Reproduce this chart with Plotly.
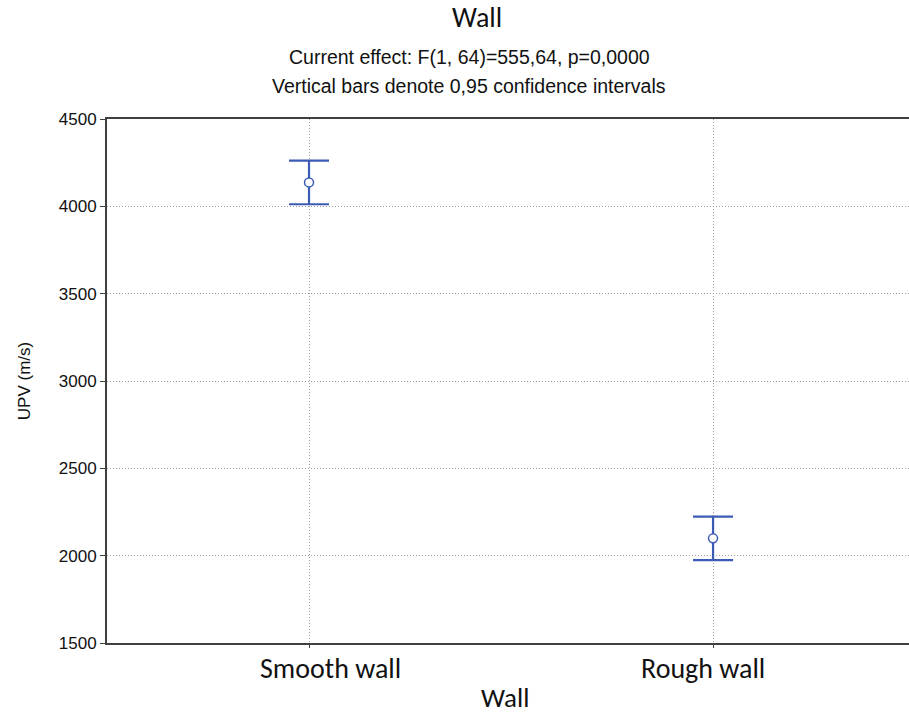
import plotly.graph_objects as go

# Group means of UPV with 95% confidence half-widths
groups = ["Smooth wall", "Rough wall"]
upv_mean = [4137, 2099]
ci_half = [125, 124]

y_ticks = [1500, 2000, 2500, 3000, 3500, 4000, 4500]

blue = "#3b5bb5"
axis_col = "#404040"
grid_col = "#a0a0a0"
sans = "Liberation Sans, Arial, sans-serif"
label_font = "Carlito, Calibri, Lato, sans-serif"

W, H = 909, 716
L, R, T, B = 107, 0, 119, 73

fig = go.Figure()
fig.add_trace(go.Scatter(
    x=[0, 1],
    y=upv_mean,
    mode="markers",
    marker=dict(symbol="circle", size=9, color="white", line=dict(width=1.5, color=blue)),
    error_y=dict(type="data", array=ci_half, visible=True, color=blue, thickness=2.2, width=20),
    showlegend=False,
    hoverinfo="y",
))

fig.update_layout(
    width=W,
    height=H,
    margin=dict(l=L, r=R, t=T, b=B),
    paper_bgcolor="white",
    plot_bgcolor="white",
    xaxis=dict(
        range=[-0.5, 1.485],
        tickmode="array",
        tickvals=[0, 1],
        showticklabels=False,
        showgrid=True,
        gridcolor=grid_col,
        griddash="1px,2px",
        gridwidth=1,
        showline=True,
        linecolor=axis_col,
        linewidth=2,
        mirror=True,
        ticks="outside",
        ticklen=3,
        tickcolor=axis_col,
        zeroline=False,
    ),
    yaxis=dict(
        range=[1500, 4500],
        tickmode="array",
        tickvals=y_ticks,
        ticktext=[str(v) for v in y_ticks],
        showgrid=True,
        gridcolor=grid_col,
        griddash="1px,2px",
        gridwidth=1,
        showline=True,
        linecolor=axis_col,
        linewidth=2,
        mirror=False,
        ticks="outside",
        ticklen=5,
        tickcolor=axis_col,
        tickfont=dict(family=sans, size=17, color="#111"),
        title=dict(text="UPV (m/s)", font=dict(family=sans, size=17, color="#111"), standoff=24),
        zeroline=False,
    ),
)

# Titles and category labels, positioned in pixels and converted to paper coordinates
plot_w = W - L - R
plot_h = H - T - B

def px(x):
    return (x - L) / plot_w

def py(y):
    return (H - B - y) / plot_h

# Category labels under the axis, each nudged slightly off its tick
label_shift = [21, -10]
for i, name in enumerate(groups):
    fig.add_annotation(text=name, x=i, y=py(668), xref="x", yref="paper",
                       xshift=label_shift[i], xanchor="center", yanchor="middle",
                       showarrow=False, font=dict(family=label_font, size=28, color="#111"))

heads = [
    ("Wall", 477, 18, dict(family=label_font, size=28, color="#111")),
    ("Current effect: F(1, 64)=555,64, p=0,0000", 469, 57, dict(family=sans, size=19.5, color="#111")),
    ("Vertical bars denote 0,95 confidence intervals", 469, 86, dict(family=sans, size=19.5, color="#111")),
    ("Wall", 505, 697, dict(family=label_font, size=27, color="#111")),
]
for text, x, y, font in heads:
    fig.add_annotation(text=text, x=px(x), y=py(y), xref="paper", yref="paper",
                       xanchor="center", yanchor="middle", showarrow=False, font=font)

fig.write_html("out.html")
